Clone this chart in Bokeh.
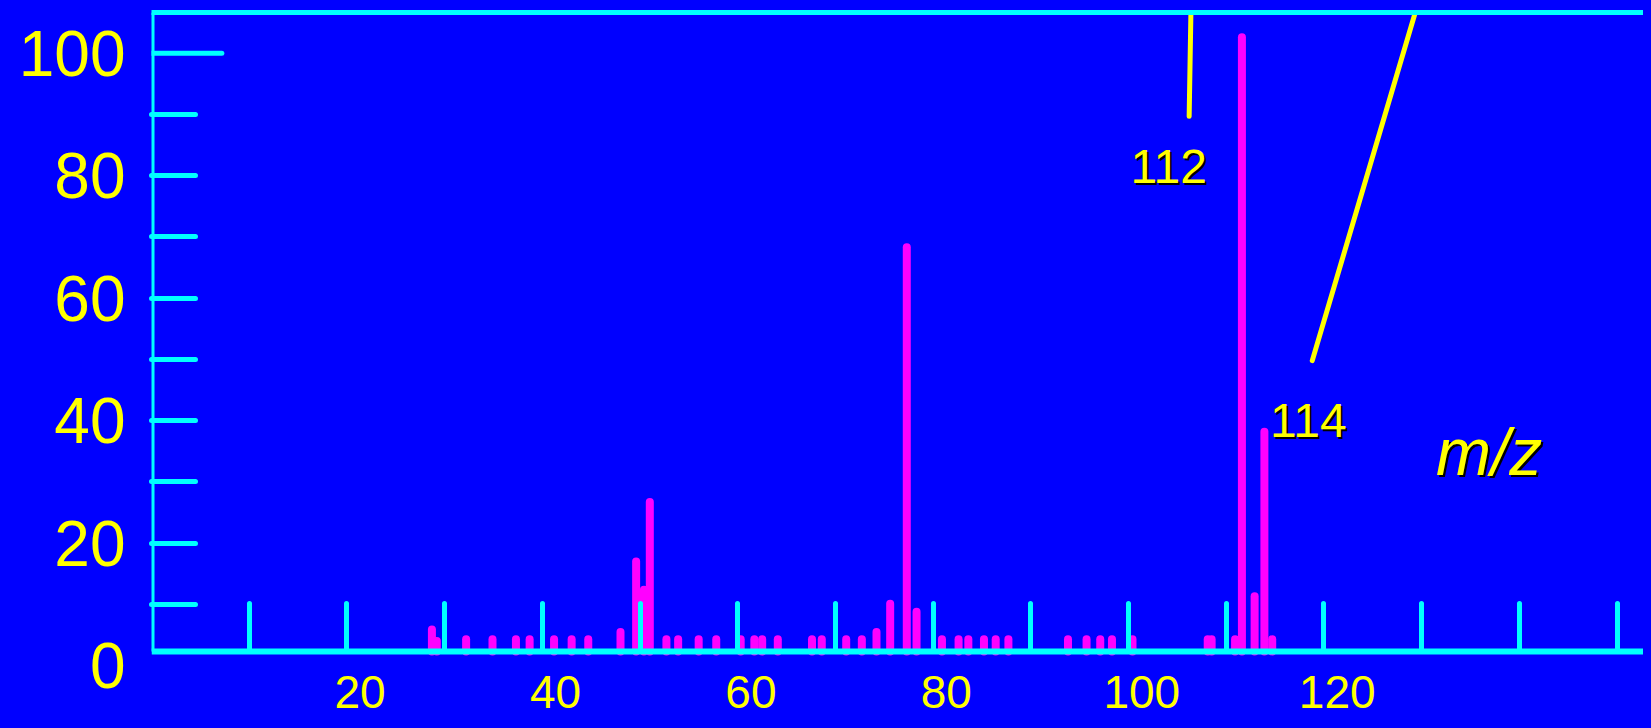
from bokeh.plotting import figure
from bokeh.models import Range1d, LinearAxis, FixedTicker, GlobalInlineStyleSheet
from bokeh.core.properties import value
from bokeh.embed import file_html
from bokeh.resources import INLINE

# ---------------- data ----------------
mz = [28.7, 29.2, 32.2, 34.9, 37.3, 38.7, 41.2, 43.0, 44.7, 48.0,
      49.6, 50.4, 51.0, 52.7, 53.9, 56.0, 57.8, 60.3, 61.7, 62.5,
      64.1, 67.6, 68.6, 71.1, 72.7, 74.2, 75.6, 77.3, 78.3, 80.9,
      82.6, 83.6, 85.2, 86.4, 87.7, 93.8, 95.7, 97.1, 98.3, 100.4,
      108.1, 108.5, 110.9, 111.6, 112.9, 113.9, 114.7]
intensity = [3.6, 1.7, 2.0, 2.0, 2.0, 2.0, 2.0, 2.0, 2.0, 3.2,
             14.7, 10.1, 24.4, 2.0, 2.0, 2.0, 2.0, 2.0, 2.0, 2.0,
             2.0, 2.0, 2.0, 2.0, 2.0, 3.2, 7.8, 66.0, 6.5, 2.0,
             2.0, 2.0, 2.0, 2.0, 2.0, 2.0, 2.0, 2.0, 2.0, 2.0,
             2.0, 2.0, 2.0, 100.3, 9.0, 35.9, 2.0]

x_tick_marks = [10, 20, 30, 40, 50, 60, 70, 80, 90, 100, 110, 120, 130, 140, 150]
x_tick_labels = [20, 40, 60, 80, 100, 120]
y_tick_marks = [10, 20, 30, 40, 50, 60, 70, 80, 90]
y_tick_labels = [0, 20, 40, 60, 80, 100]

peak_labels = ["112", "114"]
peak_label_x = [104.1, 118.4]
peak_label_y = [79.2, 37.7]
axis_title = "m/z"
axis_title_x = [136.9]
axis_title_y = [32.5]

leader_x0 = [106.4, 129.7]
leader_y0 = [106.3, 106.3]
leader_x1 = [106.2, 118.8]
leader_y1 = [87.4, 47.5]

# ---------------- styling ----------------
BLUE = "#0000FF"
CYAN = "#00FFFF"
MAGENTA = "#FF00FF"
YELLOW = "#FFFF00"
FONT = "Liberation Sans"

X_END = 152.7
Y_START = -3.76
Y_END = 104.36
Y_AXIS_SHIFT = 2.3    # the axis scale sits slightly below the baseline-referenced scale
X_LABEL_SHIFT = 1.35  # the m/z numbers sit slightly right of their tick positions

p = figure(width=1643, height=720, output_backend="svg", toolbar_location=None,
           x_range=Range1d(0, X_END), y_range=Range1d(Y_START, Y_END),
           x_axis_type=None, y_axis_type=None,
           min_border_left=151, min_border_right=0, min_border_top=12, min_border_bottom=46,
           background_fill_color=BLUE, border_fill_color=BLUE, outline_line_color=None)
p.stylesheets = [GlobalInlineStyleSheet(css="body { background-color: #0000FF; }")]

p.extra_y_ranges = {"yax": Range1d(Y_START + Y_AXIS_SHIFT, Y_END + Y_AXIS_SHIFT)}
p.extra_x_ranges = {"xlab": Range1d(-X_LABEL_SHIFT, X_END - X_LABEL_SHIFT)}

# y axis: labels 0..100, tick marks 10..90
yax = LinearAxis(y_range_name="yax",
                 ticker=FixedTicker(ticks=y_tick_labels, minor_ticks=y_tick_marks),
                 axis_line_color=None,
                 major_tick_line_color=None, major_tick_in=0, major_tick_out=0,
                 minor_tick_line_color=CYAN, minor_tick_line_width=5, minor_tick_line_cap="round",
                 minor_tick_in=44, minor_tick_out=0,
                 major_label_text_color=YELLOW, major_label_text_font=FONT,
                 major_label_text_font_size="64px", major_label_standoff=26)
p.add_layout(yax, "left")

# vertical axis line, from the baseline up
yline = LinearAxis(ticker=FixedTicker(ticks=[], minor_ticks=[]), fixed_location=0,
                   bounds=(0, Y_END), axis_line_color=CYAN, axis_line_width=6,
                   major_tick_line_color=None, minor_tick_line_color=None,
                   major_tick_in=0, major_tick_out=0,
                   major_label_text_color=None, major_label_text_font_size="1px",
                   major_label_standoff=0)
p.add_layout(yline, "left")

# x axis: baseline and tick marks
xt = LinearAxis(ticker=FixedTicker(ticks=x_tick_marks, minor_ticks=[]), fixed_location=0,
                axis_line_color=CYAN, axis_line_width=6,
                major_tick_line_color=CYAN, major_tick_line_width=5, major_tick_line_cap="round",
                major_tick_in=48, major_tick_out=0, minor_tick_line_color=None,
                major_label_text_color=None, major_label_text_font_size="1px",
                major_label_standoff=0)
p.add_layout(xt, "below")

# x axis: numbers
xl = LinearAxis(x_range_name="xlab", ticker=FixedTicker(ticks=x_tick_labels, minor_ticks=[]),
                axis_line_color=None, major_tick_line_color=None, minor_tick_line_color=None,
                major_tick_in=0, major_tick_out=0,
                major_label_text_color=YELLOW, major_label_text_font=FONT,
                major_label_text_font_size="46px", major_label_standoff=1)
p.add_layout(xl, "below")

# top border line
xtop = LinearAxis(ticker=FixedTicker(ticks=[], minor_ticks=[]),
                  axis_line_color=CYAN, axis_line_width=5,
                  major_tick_line_color=None, minor_tick_line_color=None,
                  major_tick_in=0, major_tick_out=0,
                  major_label_text_color=None, major_label_text_font_size="1px",
                  major_label_standoff=0)
p.add_layout(xtop, "above")

# long tick at 100
p.segment(x0=[0], y0=[y_tick_labels[-1]], x1=[7.2], y1=[y_tick_labels[-1]], y_range_name="yax",
          line_color=CYAN, line_width=5, line_cap="round")

# spectrum
p.segment(x0=mz, y0=[0] * len(mz), x1=mz, y1=intensity,
          line_color=MAGENTA, line_width=8, line_cap="round")

# leader lines
p.segment(x0=leader_x0, y0=leader_y0, x1=leader_x1, y1=leader_y1,
          line_color=YELLOW, line_width=5, line_cap="round")

# annotations with shadow
for col, off in (("black", 2), (YELLOW, 0)):
    p.text(x=peak_label_x, y=peak_label_y, text=peak_labels, text_color=col,
           x_offset=off, y_offset=off, text_font=value(FONT), text_font_size="48px",
           text_align="center", text_baseline="middle")
    p.text(x=axis_title_x, y=axis_title_y, text=[axis_title], text_color=col,
           x_offset=off, y_offset=off, text_font=value(FONT), text_font_size="66px",
           text_font_style="italic", text_align="center", text_baseline="middle")

open("out.html", "w").write(file_html(p, INLINE))
